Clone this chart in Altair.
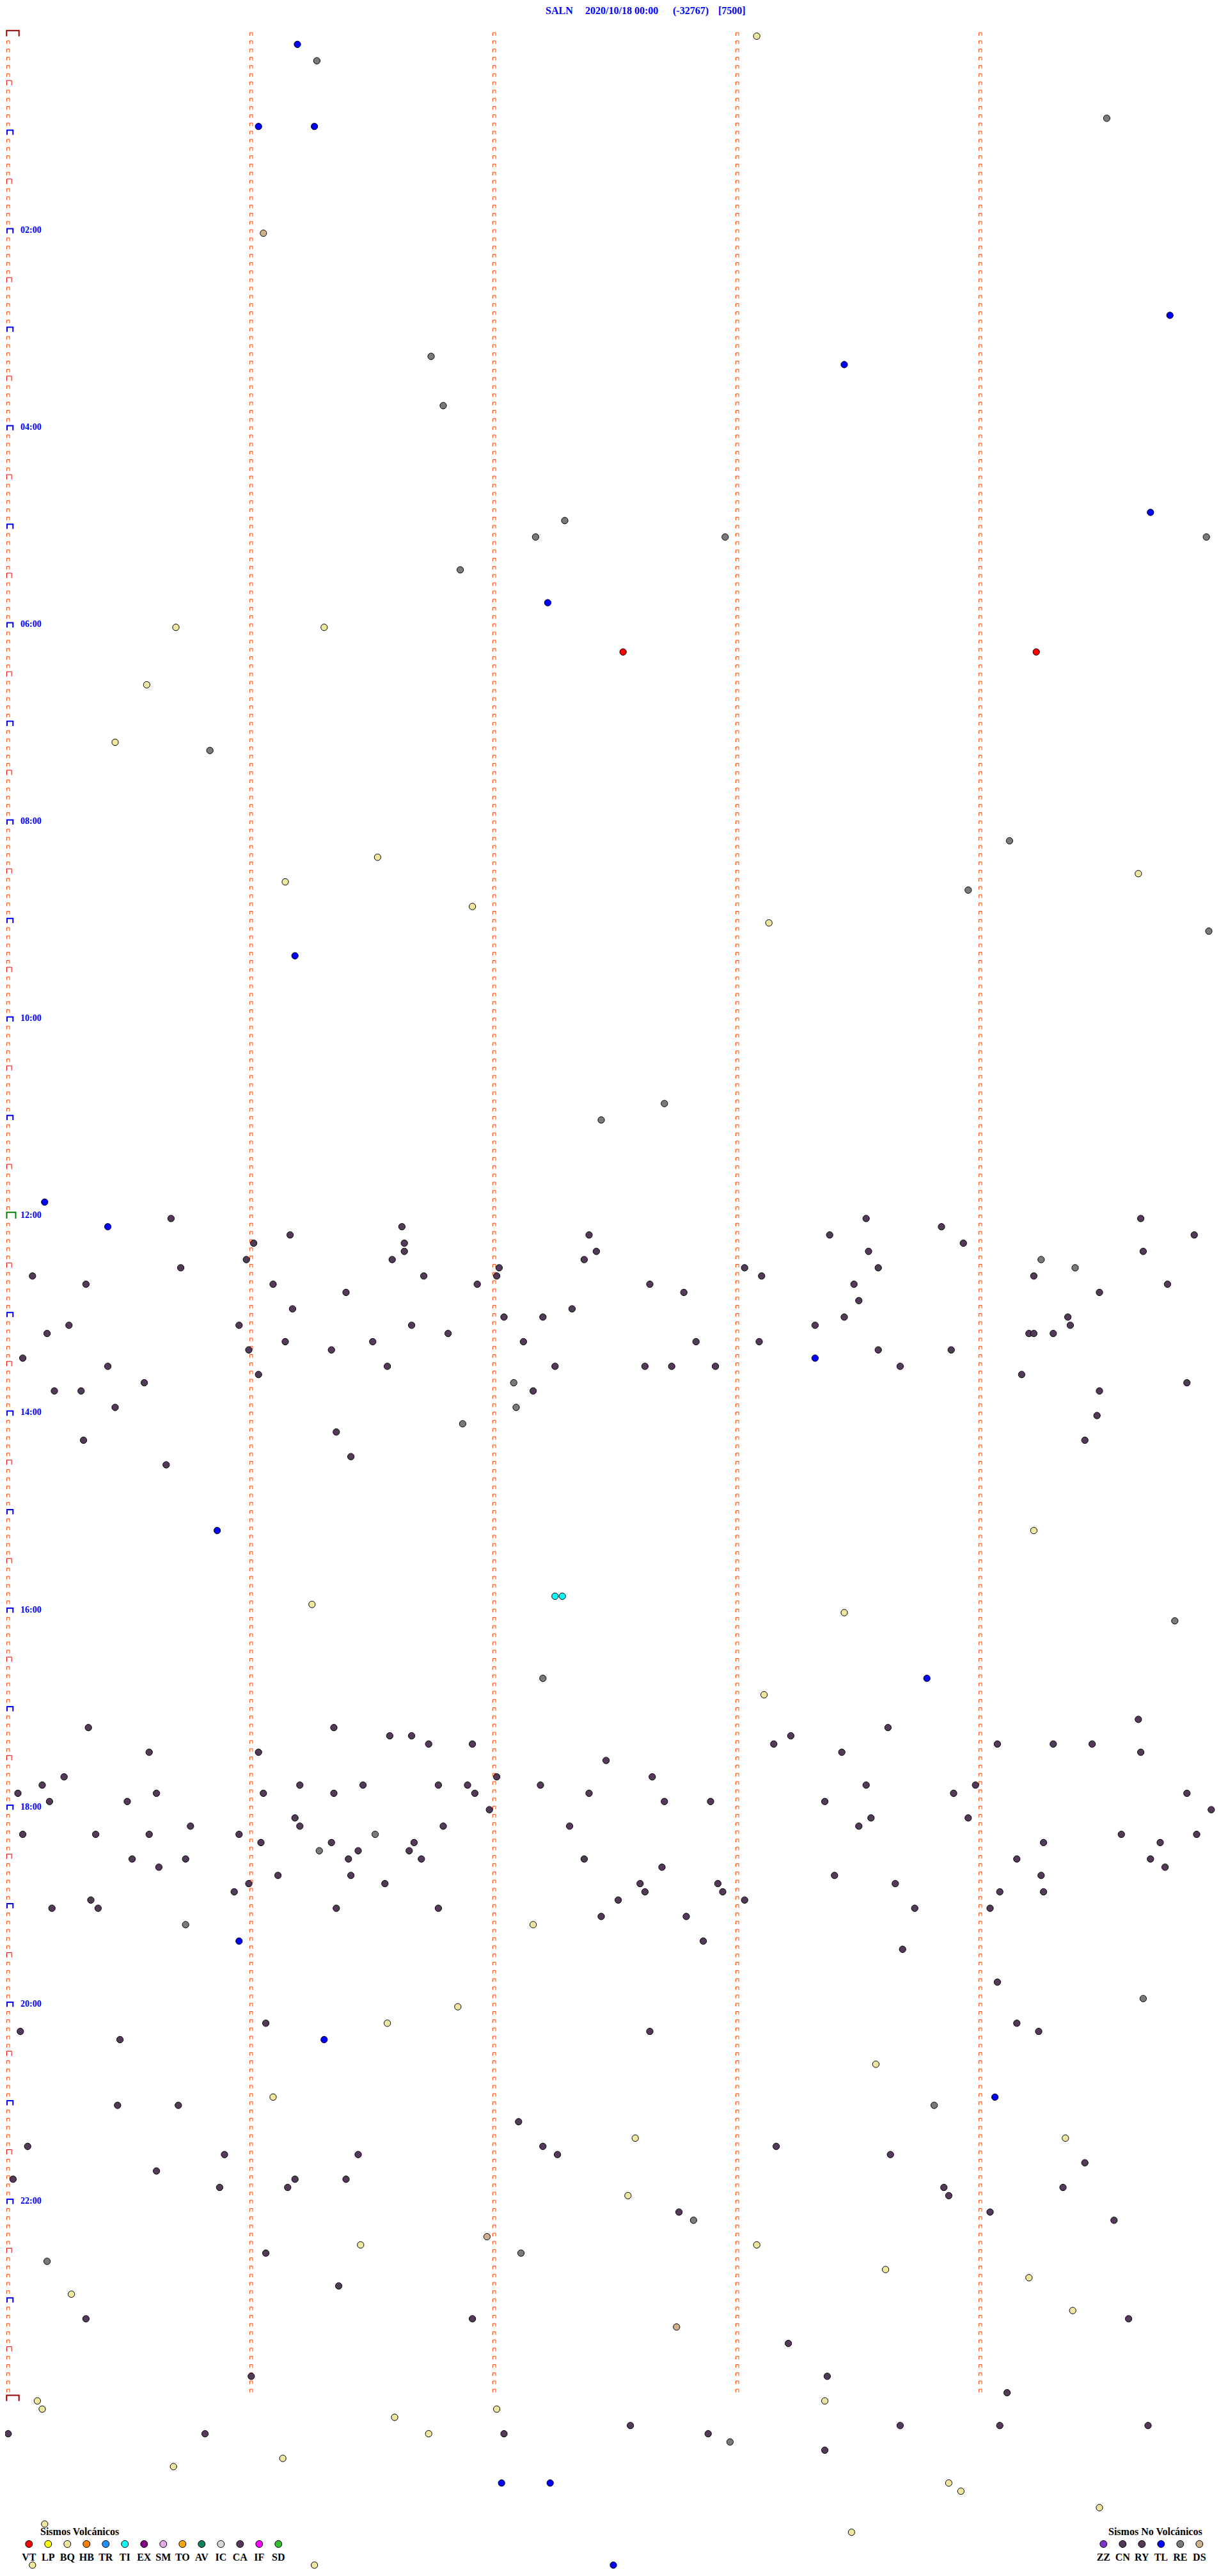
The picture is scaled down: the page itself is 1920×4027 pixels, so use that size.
import altair as alt
import pandas as pd

# ---------------- helicorder structure ----------------
MIN_PER_LINE = 5          # every line of the record is 5 minutes
N_LINES = 288             # 24 h
hour_labels = ["02:00", "04:00", "06:00", "08:00", "10:00", "12:00",
               "14:00", "16:00", "18:00", "20:00", "22:00"]
hour_label_lines = [24, 48, 72, 96, 120, 144, 168, 192, 216, 240, 264]

title_parts = ["SALN", "2020/10/18 00:00", "(-32767)", "[7500]"]

# ---------------- event classes ----------------
volc_codes = ["VT", "LP", "BQ", "HB", "TR", "TI", "EX", "SM", "TO", "AV", "IC", "CA", "IF", "SD"]
volc_colors = ["#ff0000", "#ffff00", "#f0e8a0", "#ff8000", "#1e90ff", "#00ffff", "#880088",
               "#e8a8e8", "#ffa500", "#108060", "#d8d8d8", "#533a58", "#ff00ff", "#30c030"]
nonvolc_codes = ["ZZ", "CN", "RY", "TL", "RE", "DS"]
nonvolc_colors = ["#8030d0", "#4e3a56", "#583858", "#0000ff", "#7a7a7a", "#d0b088"]

# ---------------- events: (line index, minutes into the line) ----------------
vt_events = [(75, 2.53), (75, 4.23)]
ti_events = [(190, 2.25), (190, 2.28)]
ds_events = [(24, 1.05), (268, 1.97), (279, 2.75)]
tl_events = [(1, 1.19), (11, 1.03), (11, 1.26), (34, 4.78), (40, 3.44), (58, 4.70), (69, 2.22),
             (112, 1.18), (142, 0.15), (145, 0.41), (161, 3.32), (182, 0.86), (200, 3.78),
             (232, 0.95), (244, 1.30), (251, 4.06), (298, 2.03), (298, 2.23), (308, 2.49)]
re_events = [(3, 1.27), (10, 4.52), (39, 1.74), (45, 1.79), (59, 2.29), (61, 2.17), (61, 2.95),
             (61, 4.93), (65, 1.86), (87, 0.83), (98, 4.12), (104, 3.95), (109, 4.94), (130, 2.70),
             (132, 2.44), (149, 4.25), (150, 4.39), (164, 2.08), (167, 2.09), (169, 1.87),
             (193, 4.80), (200, 2.20), (219, 1.51), (221, 1.28), (230, 0.73), (239, 4.67),
             (252, 3.81), (266, 2.82), (270, 2.11), (271, 0.16), (293, 2.97)]
bq_events = [(0, 3.08), (72, 0.69), (72, 1.30), (79, 0.57), (86, 0.44), (100, 1.52), (102, 4.65),
             (103, 1.14), (106, 1.91), (108, 3.13), (182, 4.22), (191, 1.25), (192, 3.44),
             (202, 3.11), (230, 2.16), (240, 1.85), (242, 1.56), (247, 3.57), (251, 1.09),
             (256, 2.58), (256, 4.35), (263, 2.55), (269, 1.45), (269, 3.08), (272, 3.61),
             (273, 4.20), (275, 0.26), (277, 4.38), (288, 0.12), (288, 3.36), (289, 0.14),
             (289, 2.01), (290, 1.59), (292, 1.73), (295, 1.13), (296, 0.68), (298, 3.87),
             (299, 3.92), (301, 4.49), (303, 0.15), (304, 3.47), (308, 0.10), (308, 1.26)]
ca_events_midday = [
    (144, 0.67), (144, 3.53), (144, 4.66), (145, 1.62), (145, 3.84),
    (146, 1.16), (146, 2.39), (146, 3.38), (146, 4.88), (147, 1.01), (147, 1.63), (147, 3.93),
    (148, 1.63), (148, 2.42), (148, 3.54), (148, 4.67), (149, 0.98), (149, 1.58), (149, 2.37),
    (150, 0.71), (150, 2.02), (150, 3.03), (150, 3.58),
    (151, 0.10), (151, 1.71), (151, 2.01), (151, 3.10), (151, 4.22),
    (152, 0.32), (152, 1.09), (152, 1.93), (152, 2.64), (152, 3.48), (152, 4.77),
    (153, 1.39), (153, 2.78), (153, 4.49), (154, 3.50), (155, 1.17), (155, 2.32),
    (156, 2.04), (156, 2.20), (156, 3.44), (156, 4.36),
    (157, 0.25), (157, 0.95), (157, 1.66), (157, 3.32), (157, 4.37),
    (158, 0.16), (158, 1.81), (158, 4.20), (158, 4.22), (158, 4.30),
    (159, 1.14), (159, 1.50), (159, 2.12), (159, 2.83), (159, 3.09),
    (160, 0.99), (160, 1.33), (160, 3.58), (160, 3.88), (161, 0.06),
    (162, 0.41), (162, 1.56), (162, 2.25), (162, 2.62), (162, 2.73), (162, 2.91), (162, 3.67),
    (163, 1.03), (163, 4.17), (164, 0.56), (164, 4.85),
    (165, 0.19), (165, 0.30), (165, 2.16), (165, 4.49), (167, 0.44), (168, 4.48),
    (170, 1.35), (171, 0.31), (171, 4.43), (173, 1.41), (174, 0.65)]
ca_events_evening = [
    (205, 4.65), (206, 0.33), (206, 1.34), (206, 3.62), (207, 1.57), (207, 1.66), (207, 3.22),
    (208, 1.73), (208, 1.91), (208, 3.15), (208, 4.07), (208, 4.30), (208, 4.46),
    (209, 0.58), (209, 1.03), (209, 3.43), (209, 4.66), (210, 2.46),
    (212, 0.23), (212, 2.01), (212, 2.65),
    (213, 0.14), (213, 1.20), (213, 1.46), (213, 1.77), (213, 1.89), (213, 2.19), (213, 3.53), (213, 3.98),
    (214, 0.04), (214, 0.61), (214, 1.05), (214, 1.34), (214, 1.92), (214, 2.39), (214, 3.89), (214, 4.85),
    (215, 0.17), (215, 0.49), (215, 2.70), (215, 2.89), (215, 3.36), (216, 1.98), (216, 4.95),
    (217, 1.18), (217, 3.55), (217, 3.95),
    (218, 0.75), (218, 1.20), (218, 1.79), (218, 2.31), (218, 3.50),
    (219, 0.06), (219, 0.36), (219, 0.58), (219, 0.95), (219, 4.58), (219, 4.89),
    (220, 1.04), (220, 1.33), (220, 1.67), (220, 4.26), (220, 4.74), (221, 1.44), (221, 1.65),
    (222, 0.51), (222, 0.73), (222, 1.40), (222, 1.70), (222, 2.37), (222, 4.15), (222, 4.70),
    (223, 0.62), (223, 2.69), (223, 4.76), (224, 1.11), (224, 1.41), (224, 3.40), (224, 4.25),
    (225, 0.99), (225, 1.55), (225, 2.60), (225, 2.92), (225, 3.65),
    (226, 0.93), (226, 2.62), (226, 2.94), (226, 4.08), (226, 4.26),
    (227, 0.34), (227, 2.51), (227, 3.03),
    (228, 0.18), (228, 0.37), (228, 1.35), (228, 1.77), (228, 3.73), (228, 4.04),
    (229, 2.44), (229, 2.79), (232, 2.86), (233, 3.68)]
ca_events_night = [
    (237, 4.07), (242, 1.06), (242, 4.15), (243, 0.05), (243, 2.64), (243, 4.24), (244, 0.46),
    (252, 0.45), (252, 0.70), (254, 2.10), (257, 0.08), (257, 2.20), (257, 3.16),
    (258, 0.89), (258, 1.44), (258, 2.26), (258, 3.63), (259, 4.43), (260, 0.61),
    (261, 0.02), (261, 1.18), (261, 1.39), (262, 0.87), (262, 1.15), (262, 3.85), (262, 4.34),
    (263, 3.87), (265, 2.76), (265, 4.04), (266, 4.55), (270, 1.06), (274, 1.36),
    (278, 0.32), (278, 1.91), (278, 4.61), (281, 3.21), (285, 1.00), (285, 3.37), (287, 4.11),
    (291, 2.56), (291, 3.67), (291, 4.08), (291, 4.69),
    (292, 0.00), (292, 0.81), (292, 2.04), (292, 2.88), (294, 3.36)]

events_by_type = {
    "VT": vt_events, "TI": ti_events, "DS": ds_events, "TL": tl_events, "RE": re_events,
    "BQ": bq_events, "CA": ca_events_midday + ca_events_evening + ca_events_night,
}

# ---------------- tables ----------------
ev_df = pd.DataFrame([{"type": t, "line": l, "minute": m}
                      for t, evs in events_by_type.items() for l, m in evs])

small_rows, special_rows = [], []
for col in range(MIN_PER_LINE):
    for line in range(N_LINES + (1 if col == 0 else 0)):
        if col == 0 and line % 6 == 0:
            if line in (0, N_LINES):
                kind = "day"
            elif line == N_LINES // 2:
                kind = "noon"
            elif line % 12 == 0:
                kind = "hour"
            else:
                kind = "half"
            special_rows.append({"line": line, "minute": col, "kind": kind})
        elif line < N_LINES:
            small_rows.append({"line": line, "minute": col})
small_df = pd.DataFrame(small_rows)
special_df = pd.DataFrame(special_rows)

hour_df = pd.DataFrame({"line": hour_label_lines, "label": hour_labels})

all_codes = volc_codes + nonvolc_codes
all_colors = volc_colors + nonvolc_colors

# ---------------- layout ----------------
ROW_PX = 12.836
Y0 = 45.5
XS = alt.Scale(domain=[0, MIN_PER_LINE], range=[4.8, 4.8 + 380 * MIN_PER_LINE], nice=False, zero=False)
YS = alt.Scale(domain=[0, N_LINES], range=[Y0, Y0 + ROW_PX * N_LINES], nice=False, zero=False)
FILL = alt.Scale(domain=all_codes, range=all_colors)
SERIF = "Liberation Serif"

x_enc = alt.X("minute:Q", scale=XS, axis=None)
y_enc = alt.Y("line:Q", scale=YS, axis=None)

small = alt.Chart(small_df).mark_point(
    shape="M-1,1.1L-1,-1.1L1,-1.1L1,1.1", size=20, filled=False,
    stroke="#ff4500", strokeWidth=1, opacity=1, strokeCap="butt"
).encode(x=x_enc, y=y_enc)


def bracket(kind, w, h, color, sw, dx, dy):
    half_h = h / w
    path = f"M-1,{half_h:.3f}L-1,{-half_h:.3f}L1,{-half_h:.3f}L1,{half_h:.3f}"
    return alt.Chart(special_df).transform_filter(alt.datum.kind == kind).mark_point(
        shape=path, size=w * w, filled=False, stroke=color, strokeWidth=sw,
        opacity=1, xOffset=dx, yOffset=dy, strokeCap="butt"
    ).encode(x=x_enc, y=y_enc)


day_m = bracket("day", 19.4, 9.0, "#990000", 2, 7.2, -1.3)
hour_m = bracket("hour", 9.3, 7.3, "#0000ff", 2, 2.85, -0.45)
noon_m = bracket("noon", 14.0, 9.7, "#008000", 2, 4.7, -1.75)
half_m = bracket("half", 7.7, 7.5, "#ff0000", 1, 1.55, -0.95)

dots = alt.Chart(ev_df).mark_circle(
    size=105, stroke="black", strokeWidth=1, opacity=1, yOffset=3
).encode(x=x_enc, y=y_enc, fill=alt.Fill("type:N", scale=FILL, legend=None))

hours = alt.Chart(hour_df).mark_text(
    align="left", baseline="middle", font=SERIF, fontWeight="bold", fontSize=14,
    color="#0000ff", dy=-1.5
).encode(x=alt.value(24), y=y_enc, text="label:N")

title_x = [845, 907, 1044, 1115]
title_df = pd.DataFrame({"text": title_parts, "px": title_x})
title = alt.Chart(title_df).mark_text(
    align="left", baseline="alphabetic", font=SERIF, fontWeight="bold", fontSize=16,
    color="#0000ff"
).encode(x=alt.X("px:Q", scale=None), y=alt.value(13.5), text="text:N")

# legends
leg_v = pd.DataFrame({"code": volc_codes, "px": [37.3 + 30 * i for i in range(len(volc_codes))]})
leg_n = pd.DataFrame({"code": nonvolc_codes, "px": [1717.3 + 30 * i for i in range(len(nonvolc_codes))]})
leg_df = pd.concat([leg_v, leg_n])

leg_dots = alt.Chart(leg_df).mark_circle(
    size=120, stroke="black", strokeWidth=1, opacity=1
).encode(x=alt.X("px:Q", scale=None), y=alt.value(3969),
         fill=alt.Fill("code:N", scale=FILL, legend=None))
leg_text = alt.Chart(leg_df).mark_text(
    align="center", baseline="alphabetic", font=SERIF, fontWeight="bold", fontSize=16, color="black"
).encode(x=alt.X("px:Q", scale=None), y=alt.value(3994.5), text="code:N")

leg_titles_df = pd.DataFrame({"text": ["Sismos Volcánicos", "Sismos No Volcánicos"], "px": [55, 1725]})
leg_titles = alt.Chart(leg_titles_df).mark_text(
    align="left", baseline="alphabetic", font=SERIF, fontWeight="bold", fontSize=16, color="black"
).encode(x=alt.X("px:Q", scale=None), y=alt.value(3954.5), text="text:N")

chart = alt.layer(
    small, half_m, hour_m, noon_m, day_m, hours, title, dots, leg_dots, leg_text, leg_titles
).properties(
    width=1896, height=4008, padding=0,
    autosize=alt.AutoSizeParams(type="none"),
    background="white",
).configure_view(stroke=None)

chart.save("out.html", embed_options={"renderer": "svg", "actions": False})
